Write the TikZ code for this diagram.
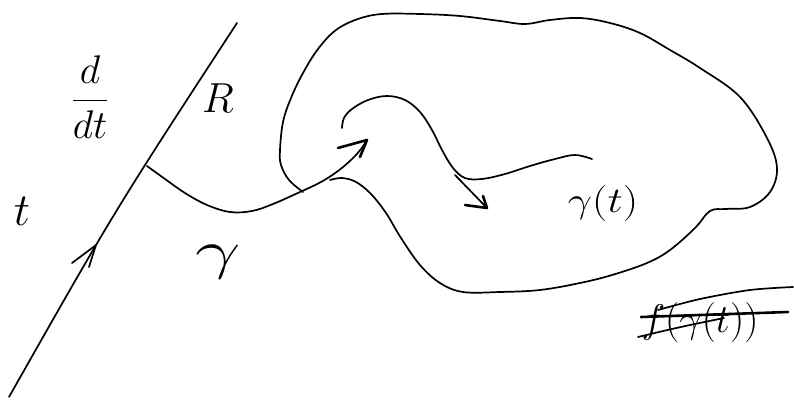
\RequirePackage{fix-cm}
\documentclass[tikz,border=0pt]{standalone}
\usepackage{amsmath}
\begin{document}
\begin{tikzpicture}[x=1pt,y=-1pt,line cap=round,line join=round,
  ink/.style={line width=1.7pt,black},
  thickink/.style={line width=2.6pt,black},
  lbl/.style={inner sep=0pt,outer sep=0pt}]
\useasboundingbox (0,0) rectangle (794,401);
% the line R with its direction arrow
\coordinate (lineBot) at (9,397);
\coordinate (lineTop) at (237,23);
\draw[ink] (lineBot) .. controls (115,210) .. (lineTop);
\coordinate (aOneTip) at (96,245);
\draw[ink] (72,263) -- (aOneTip) -- (89,267);
% gamma curve from the line into the blob
\coordinate (gStart) at (147,166);
\coordinate (gTip) at (367,140);
\draw[ink] plot[smooth,tension=0.6] coordinates {(gStart) (165,179) (185,193) (207,205) (230,212) (252,211) (273,204) (300,192) (321,182) (338,171) (352,159) (361,149) (gTip)};
\draw[thickink] (338,148) -- (gTip) -- (360,157);
% curve inside the blob
\coordinate (uStart) at (342,128);
\coordinate (uEnd) at (592,159);
\draw[ink] plot[smooth,tension=0.6] coordinates {(uStart) (344,118) (352,109) (368,100) (387,96) (405,100) (420,112) (432,130) (442,150) (453,168) (465,178) (482,179) (505,174) (530,166) (555,159) (575,155) (uEnd)};
% tangent arrow
\coordinate (tStart) at (455,175);
\coordinate (tTip) at (487,208);
\draw[ink] (tStart) -- (tTip);
\draw[thickink] (465,205) -- (tTip) -- (483,196);
% blob
\draw[ink] plot[smooth,tension=0.6] coordinates {(303,192) (289,180) (281,165) (280,150) (283,122) (291,98) (303,73) (318,49) (336,30) (358,19) (382,14) (420,14) (460,16) (500,21) (525,24) (550,20) (580,18) (610,23) (640,33) (670,50) (700,68) (740,97) (767,138) (777,168) (770,192) (750,207) (726,209) (710,211) (695,228) (670,250) (647,263) (612,275) (580,283) (540,290) (500,292) (463,292) (440,283) (420,265) (401,238) (386,213) (371,194) (356,182) (342,178) (330,180)};
% labels
\node[lbl,font=\fontsize{40}{40}\selectfont] (ddt) at (90,97) {$\dfrac{d}{dt}$};
\node[lbl,font=\fontsize{46}{46}\selectfont] (tlab) at (22,211) {$t$};
\node[lbl,font=\fontsize{42}{42}\selectfont] (Rlab) at (218,98) {$R$};
\node[lbl,font=\fontsize{54}{54}\selectfont] (glab) at (218,262) {\scalebox{1.5}[1]{$\gamma$}};
\node[lbl,font=\fontsize{36}{36}\selectfont] (gtlab) at (603,203) {\scalebox{1.2}[1]{$\gamma(t)$}};
\node[lbl,font=\fontsize{40}{40}\selectfont] (fgt) at (700,322) {$f(\gamma(t))$};
% strike-out
\draw[thickink] (641,317) -- (788,312);
\draw[ink] (638,337) .. controls (680,327) .. (724,318);
\draw[ink] plot[smooth] coordinates {(658,310) (700,299) (750,290) (793,287)};
\end{tikzpicture}
\end{document}
